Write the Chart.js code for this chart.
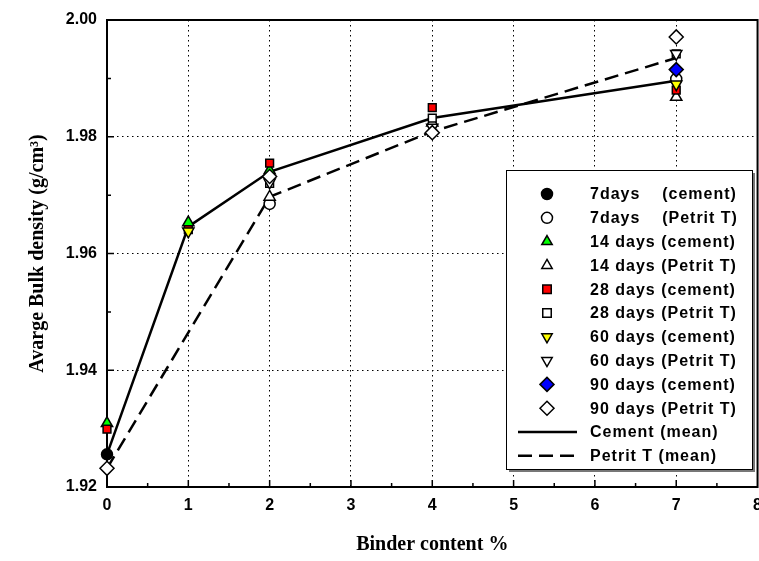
<!DOCTYPE html>
<html lang="en">
<head>
<meta charset="UTF-8">
<title>Avarge Bulk density vs Binder content</title>
<script src="https://cdn.jsdelivr.net/npm/chart.js"></script>
<style>
  html, body { margin: 0; padding: 0; background: #fff; overflow: hidden; }
  #wrap { width: 759px; height: 561px; overflow: hidden; }
  #inner { width: 771px; height: 561px; position: relative; }
</style>
</head>
<body>
<div id="wrap"><div id="inner"><canvas id="densityChart"></canvas></div></div>
<script>
// binder content (%) where samples were taken
const binder = [0, 1, 2, 4, 7];

// bulk density (g/cm3) per binder content; null = no visible mark
const cement7   = [1.9256, null,   null,   null,   null];
const petrit7   = [null,   null,   1.9685, null,   1.9899];
const cement14  = [1.9309, 1.9653, 1.9742, null,   null];
const petrit14  = [null,   null,   1.9697, 1.9824, 1.9868];
const cement28  = [1.9299, 1.9641, 1.9755, 1.9850, 1.9880];
const petrit28  = [null,   null,   1.9720, 1.9832, 1.9942];
const cement60  = [null,   1.9638, null,   null,   1.9890];
const petrit60  = [null,   null,   1.9722, 1.9816, 1.9942];
const cement90  = [null,   null,   null,   null,   1.9915];
const petrit90  = [1.9232, null,   1.9732, 1.9807, 1.9971];
const cementMean = [1.9256, 1.9646, 1.9740, 1.9832, 1.9896];
const petritMean = [1.9232, null,   1.9697, 1.9809, 1.9935];

const xTicks = [0, 1, 2, 3, 4, 5, 6, 7, 8];
const yTicks = [1.92, 1.94, 1.96, 1.98, 2.00];

function pts(vals) {
  return binder.map((b, i) => ({ x: b, y: vals[i] })).filter(p => p.y !== null);
}

function marker(label, vals, style, fill, idx, rot) {
  let r = 5.5;
  if (style === 'triangle') r = 6.5;
  if (style === 'rectRot') r = 7;
  return {
    label: label,
    data: pts(vals),
    pointStyle: style,
    pointRotation: rot || 0,
    pointRadius: r,
    pointBackgroundColor: fill,
    pointBorderColor: '#000',
    pointBorderWidth: 1.5,
    showLine: false,
    clip: false,
    order: 20 - idx
  };
}

function meanLine(label, vals, dash) {
  return {
    label: label,
    data: pts(vals),
    showLine: true,
    borderColor: '#000',
    borderWidth: 2.5,
    borderDash: dash,
    pointRadius: 0,
    fill: false,
    clip: false,
    order: 100
  };
}

const datasets = [
  marker('7days    (cement)',  cement7,  'circle',   '#000000', 0),
  marker('7days    (Petrit T)', petrit7, 'circle',   '#ffffff', 1),
  marker('14 days (cement)',   cement14, 'triangle', '#00ff00', 2),
  marker('14 days (Petrit T)', petrit14, 'triangle', '#ffffff', 3),
  marker('28 days (cement)',   cement28, 'rect',     '#ff0000', 4),
  marker('28 days (Petrit T)', petrit28, 'rect',     '#ffffff', 5),
  marker('60 days (cement)',   cement60, 'triangle', '#ffff00', 6, 180),
  marker('60 days (Petrit T)', petrit60, 'triangle', '#ffffff', 7, 180),
  marker('90 days (cement)',   cement90, 'rectRot',  '#0000ff', 8),
  marker('90 days (Petrit T)', petrit90, 'rectRot',  '#ffffff', 9),
  meanLine('Cement (mean)', cementMean, []),
  meanLine('Petrit T (mean)', petritMean, [14, 7])
];

// frame plus inward major/minor ticks
const frameTicks = {
  id: 'frameTicks',
  beforeDatasetsDraw(chart) {
    const { ctx, chartArea: a, scales } = chart;
    ctx.save();
    ctx.strokeStyle = '#000';
    ctx.lineWidth = 1.5;
    ctx.beginPath();
    for (let v = 0.5; v < 8; v += 0.5) {
      const px = scales.x.getPixelForValue(v);
      const len = Number.isInteger(v) ? 7 : 4;
      ctx.moveTo(px, a.bottom);
      ctx.lineTo(px, a.bottom - len);
    }
    for (let k = 1; k < 8; k++) {
      const v = 1.92 + k * 0.01;
      const py = scales.y.getPixelForValue(v);
      const len = k % 2 === 0 ? 7 : 4;
      ctx.moveTo(a.left, py);
      ctx.lineTo(a.left + len, py);
    }
    ctx.stroke();
    ctx.lineWidth = 2;
    ctx.strokeRect(a.left, a.top, a.right - a.left, a.bottom - a.top);
    ctx.restore();
  }
};

// boxed legend inside the plot
const boxLegend = {
  id: 'boxLegend',
  afterDraw(chart) {
    const ctx = chart.ctx;
    const bx = 506, by = 170, bw = 246, bh = 299;
    ctx.save();
    ctx.fillStyle = '#777';
    ctx.fillRect(bx + 3, by + 3, bw, bh);
    ctx.fillStyle = '#fff';
    ctx.fillRect(bx, by, bw, bh);
    ctx.strokeStyle = '#000';
    ctx.lineWidth = 1;
    ctx.strokeRect(bx + 0.5, by + 0.5, bw, bh);

    ctx.font = 'bold 16px "Liberation Sans", Arial, sans-serif';
    ctx.letterSpacing = '1px';
    ctx.textBaseline = 'middle';
    ctx.textAlign = 'left';
    const rowH = 23.8;
    chart.data.datasets.forEach((ds, i) => {
      const y = by + 24 + i * rowH;
      if (ds.showLine) {
        ctx.strokeStyle = '#000';
        ctx.lineWidth = 2.5;
        ctx.setLineDash(ds.borderDash);
        ctx.beginPath();
        ctx.moveTo(518, y);
        ctx.lineTo(577, y);
        ctx.stroke();
        ctx.setLineDash([]);
      } else {
        ctx.fillStyle = ds.pointBackgroundColor;
        ctx.strokeStyle = '#000';
        ctx.lineWidth = 1.5;
        const r = ds.pointStyle === 'circle' ? 5.5 : (ds.pointStyle === 'rectRot' ? 7 : 6);
        Chart.helpers.drawPoint(ctx, {
          pointStyle: ds.pointStyle,
          rotation: ds.pointRotation,
          radius: r,
          borderWidth: 1.5
        }, 547, y);
      }
      ctx.fillStyle = '#000';
      ctx.fillText(ds.label, 590, y + 1);
    });
    ctx.restore();
  }
};

new Chart(document.getElementById('densityChart'), {
  type: 'scatter',
  data: { datasets: datasets },
  options: {
    responsive: true,
    maintainAspectRatio: false,
    animation: false,
    layout: { padding: { left: 0, right: 2, top: 20, bottom: 0 } },
    plugins: {
      legend: { display: false },
      tooltip: { enabled: false }
    },
    scales: {
      x: {
        type: 'linear',
        min: 0,
        max: 8,
        afterBuildTicks: s => { s.ticks = xTicks.map(v => ({ value: v })); },
        afterFit: s => { s.height = 74; },
        ticks: {
          color: '#000',
          padding: 9,
          maxRotation: 0,
          font: { family: '"Liberation Sans", Arial, sans-serif', size: 16, weight: 'bold' }
        },
        grid: {
          color: ctx => (ctx.tick && ctx.tick.value > 0 && ctx.tick.value < 8) ? '#000' : 'rgba(0,0,0,0)',
          lineWidth: 1,
          drawTicks: false
        },
        border: { display: false, dash: [1.5, 3.5] },
        title: {
          display: true,
          text: 'Binder content %',
          color: '#000',
          padding: { top: 0, bottom: 4 },
          font: { family: '"Liberation Serif", "Times New Roman", serif', size: 20, weight: 'bold' }
        }
      },
      y: {
        type: 'linear',
        min: 1.92,
        max: 2.00,
        afterBuildTicks: s => { s.ticks = yTicks.map(v => ({ value: v })); },
        afterFit: s => { s.width = 107; },
        ticks: {
          color: '#000',
          padding: 10,
          callback: v => v.toFixed(2),
          font: { family: '"Liberation Sans", Arial, sans-serif', size: 16, weight: 'bold' }
        },
        grid: {
          color: ctx => (ctx.tick && ctx.tick.value > 1.921 && ctx.tick.value < 1.999) ? '#000' : 'rgba(0,0,0,0)',
          lineWidth: 1,
          drawTicks: false
        },
        border: { display: false, dash: [1.5, 3.5] },
        title: {
          display: true,
          text: 'Avarge Bulk density (g/cm³)',
          color: '#000',
          padding: { top: 26, bottom: 0 },
          font: { family: '"Liberation Serif", "Times New Roman", serif', size: 20, weight: 'bold' }
        }
      }
    }
  },
  plugins: [frameTicks, boxLegend]
});
</script>
</body>
</html>
